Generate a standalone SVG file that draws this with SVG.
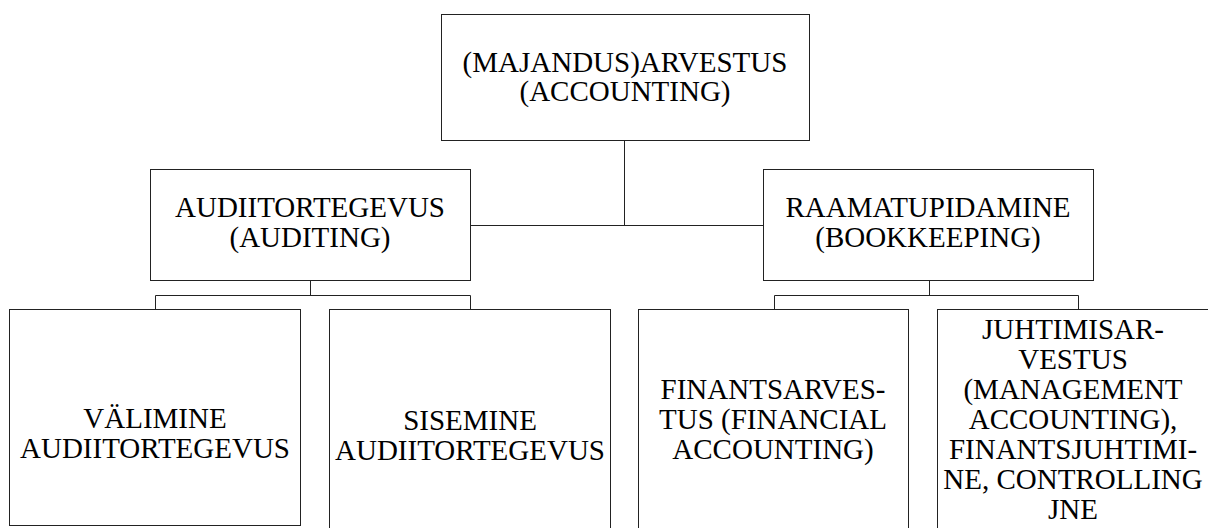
<svg xmlns="http://www.w3.org/2000/svg" width="1208" height="528" viewBox="0 0 1208 528">
<style>
.box{fill:#fff;stroke:#222;stroke-width:1}
.con{fill:none;stroke:#222;stroke-width:1}
text{font-family:"Liberation Serif","Times New Roman",serif;font-size:29px;fill:#000;text-anchor:middle}
</style>
<rect width="1208" height="528" fill="#fff"/>
<g id="connectors">
<path class="con" d="M624.5 140.5V225.5M470.5 225.5H763.5"/>
<path class="con" d="M310.5 281V295.5M155.5 309V295.5H470.5V309"/>
<path class="con" d="M929.5 281V295.5M774.5 309V295.5H1078.5V309"/>
</g>
<g id="accounting">
<rect class="box" x="441.5" y="14.5" width="368" height="126"/>
<text x="625" y="72">(MAJANDUS)ARVESTUS</text>
<text x="625" y="101">(ACCOUNTING)</text>
</g>
<g id="auditing">
<rect class="box" x="150.5" y="169.5" width="320" height="111"/>
<text x="310" y="217">AUDIITORTEGEVUS</text>
<text x="310" y="247">(AUDITING)</text>
</g>
<g id="bookkeeping">
<rect class="box" x="763.5" y="169.5" width="330" height="111"/>
<text x="928" y="217">RAAMATUPIDAMINE</text>
<text x="928" y="247">(BOOKKEEPING)</text>
</g>
<g id="external-audit">
<rect class="box" x="9.5" y="309.5" width="291" height="216"/>
<text x="155" y="428">VÄLIMINE</text>
<text x="155" y="458">AUDIITORTEGEVUS</text>
</g>
<g id="internal-audit">
<rect class="box" x="329.5" y="309.5" width="281" height="230"/>
<text x="470" y="430">SISEMINE</text>
<text x="470" y="460">AUDIITORTEGEVUS</text>
</g>
<g id="financial-accounting">
<rect class="box" x="638.5" y="309.5" width="270" height="230"/>
<text x="773" y="399">FINANTSARVES-</text>
<text x="773" y="429">TUS (FINANCIAL</text>
<text x="773" y="459">ACCOUNTING)</text>
</g>
<g id="management-accounting">
<rect class="box" x="937.5" y="309.5" width="274" height="230"/>
<text x="1073" y="339">JUHTIMISAR-</text>
<text x="1073" y="369">VESTUS</text>
<text x="1073" y="399">(MANAGEMENT</text>
<text x="1073" y="429">ACCOUNTING),</text>
<text x="1073" y="459">FINANTSJUHTIMI-</text>
<text x="1073" y="489">NE, CONTROLLING</text>
<text x="1073" y="519">JNE</text>
</g>
</svg>
